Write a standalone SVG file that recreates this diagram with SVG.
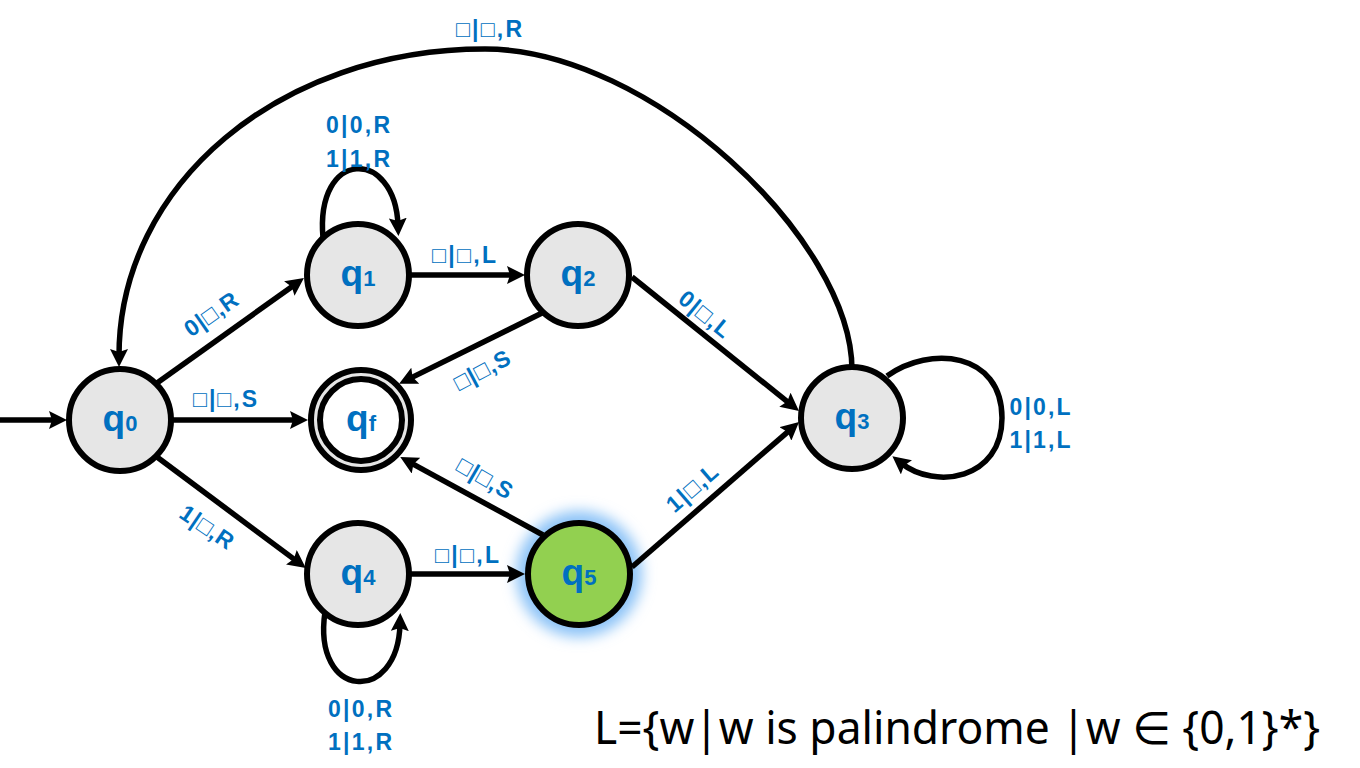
<svg xmlns="http://www.w3.org/2000/svg" width="1360" height="768" viewBox="0 0 1360 768">
<defs>
<style>
.node{fill:#e6e6e6;stroke:#000;stroke-width:6}
.edge{fill:none;stroke:#000;stroke-width:5.5;marker-end:url(#ah)}
.lbl{font-family:"Liberation Sans",Arial,"DejaVu Sans",sans-serif;font-weight:bold;font-size:23px;fill:#0070c0;text-anchor:middle}
.st{font-family:"Liberation Sans",Arial,sans-serif;font-weight:bold;fill:#0070c0;text-anchor:middle}
.q{font-size:37px}
.sub{font-size:22px}
.formula{font-family:"Noto Sans","DejaVu Sans",sans-serif;font-size:45px;fill:#000}
</style>
<marker id="ah" markerUnits="userSpaceOnUse" markerWidth="19" markerHeight="18" refX="7" refY="9" orient="auto" viewBox="0 0 19 18">
<path d="M0,0 L18,9 L0,18 L3,9 z" fill="#000"/>
</marker>
<filter id="glow" x="-50%" y="-50%" width="200%" height="200%">
<feGaussianBlur stdDeviation="7"/>
</filter>
</defs>

<g id="q5-glow">
<circle cx="579" cy="574" r="63" fill="#8cc3f7" filter="url(#glow)"/>
</g>

<g id="connectors">
<path class="edge" d="M0,420 L56,420"/>
<path class="edge" d="M171,420 L297,420"/>
<path class="edge" d="M157,383 L295,284.4"/>
<path class="edge" d="M157,457 L297,561.4"/>
<path class="edge" d="M411,275 L514,275"/>
<path class="edge" d="M411,574 L514,574"/>
<path class="edge" d="M542,313 L409,378.9"/>
<path class="edge" d="M543,535 L409.9,462.3"/>
<path class="edge" d="M632,277 L790.4,404.1"/>
<path class="edge" d="M632,567 L790.7,429.3"/>
<path class="edge" d="M852,370 C852,240 650,49 485,49 C280,49 119,184 119,356"/>
<path class="edge" d="M323,238 C315,148 395,148 398,225"/>
<path class="edge" d="M325,612 C312,700 398,705 400,624"/>
<path class="edge" d="M887,376 C930,345 1002,352 1002,418 C1002,480 935,490 901,463"/>
</g>

<g id="edge-labels">
<text class="lbl" x="489" y="37" textLength="66">□|□,R</text>
<text class="lbl" x="358" y="133" textLength="64">0|0,R</text>
<text class="lbl" x="358" y="167" textLength="64">1|1,R</text>
<text class="lbl" x="464" y="263" textLength="64">□|□,L</text>
<text class="lbl" x="225" y="407" textLength="64">□|□,S</text>
<text class="lbl" x="467" y="563" textLength="64">□|□,L</text>
<text class="lbl" x="360" y="717" textLength="64">0|0,R</text>
<text class="lbl" x="360" y="750" textLength="64">1|1,R</text>
<text class="lbl" x="1040" y="415" textLength="61">0|0,L</text>
<text class="lbl" x="1040" y="448" textLength="61">1|1,L</text>
<text class="lbl" transform="translate(211,314) rotate(-35)" y="8" textLength="60">0|□,R</text>
<text class="lbl" transform="translate(207,527) rotate(34)" y="8" textLength="60">1|□,R</text>
<text class="lbl" transform="translate(705,314) rotate(39)" y="8" textLength="60">0|□,L</text>
<text class="lbl" transform="translate(692,488) rotate(-41)" y="8" textLength="60">1|□,L</text>
<text class="lbl" transform="translate(482,370) rotate(-28)" y="8" textLength="60">□|□,S</text>
<text class="lbl" transform="translate(485,478) rotate(30)" y="8" textLength="60">□|□,S</text>
</g>

<g id="q0">
<circle class="node" cx="120" cy="420" r="51"/>
<text class="st" x="120" y="431"><tspan class="q">q</tspan><tspan class="sub">0</tspan></text>
</g>
<g id="q1">
<circle class="node" cx="358" cy="275" r="51"/>
<text class="st" x="358" y="286"><tspan class="q">q</tspan><tspan class="sub">1</tspan></text>
</g>
<g id="q2">
<circle class="node" cx="578" cy="275" r="51"/>
<text class="st" x="578" y="286"><tspan class="q">q</tspan><tspan class="sub">2</tspan></text>
</g>
<g id="qf">
<circle cx="361" cy="420" r="50" fill="#e6e6e6" stroke="#000" stroke-width="6"/>
<circle cx="361" cy="420" r="41" fill="#fff" stroke="#000" stroke-width="6"/>
<text class="st" x="361" y="431"><tspan class="q">q</tspan><tspan class="sub">f</tspan></text>
</g>
<g id="q3">
<circle class="node" cx="852" cy="418" r="51"/>
<text class="st" x="852" y="429"><tspan class="q">q</tspan><tspan class="sub">3</tspan></text>
</g>
<g id="q4">
<circle class="node" cx="358" cy="574" r="51"/>
<text class="st" x="358" y="585"><tspan class="q">q</tspan><tspan class="sub">4</tspan></text>
</g>
<g id="q5">
<circle cx="579" cy="574" r="51" fill="#92d050" stroke="#000" stroke-width="6"/>
<text class="st" x="579" y="585"><tspan class="q">q</tspan><tspan class="sub">5</tspan></text>
</g>

<g id="formula">
<text class="formula" x="594" y="744" textLength="726" lengthAdjust="spacingAndGlyphs">L={w|w is palindrome |w ∈ {0,1}*}</text>
</g>
</svg>
